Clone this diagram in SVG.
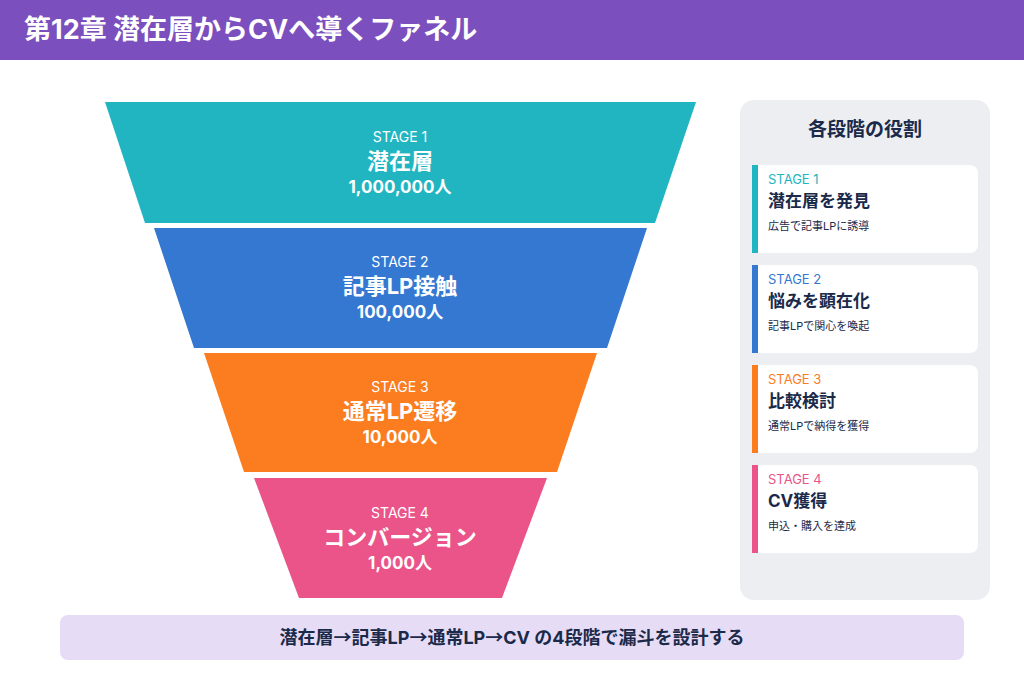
<svg xmlns="http://www.w3.org/2000/svg" width="1024" height="683" viewBox="0 0 1024 683">
<style>
text{font-family:Inter,"Noto Sans CJK JP",sans-serif}
.st{font-size:14px;fill:#fff;text-anchor:middle}
.tt{font-size:22px;font-weight:700;fill:#fff;text-anchor:middle}
.nm{font-size:17px;font-weight:700;fill:#fff;text-anchor:middle}
.card{fill:#fff}
.cl{font-size:13px}
.ct{font-size:17px;font-weight:700;fill:#1b2a4a}
.cd{font-size:11px;fill:#1b2a4a}
</style>
<rect width="1024" height="683" fill="#fff"/>
<rect width="1024" height="60" fill="#7b4fbd"/>
<text x="24" y="39" font-size="27" font-weight="700" fill="#fff">第12章 潜在層からCVへ導くファネル</text>
<g id="stage1"><polygon points="105,102 696,102 655,223 145,223" fill="#21b5c1"/>
<text class="st" x="400" y="142">STAGE 1</text><text class="tt" x="400" y="169">潜在層</text><text class="nm" x="400" y="193">1,000,000人</text></g>
<g id="stage2"><polygon points="154,228 647,228 607,348 194,348" fill="#3478d1"/>
<text class="st" x="400" y="267">STAGE 2</text><text class="tt" x="400" y="294">記事LP接触</text><text class="nm" x="400" y="318">100,000人</text></g>
<g id="stage3"><polygon points="204,353 597,353 557,472 244,472" fill="#fb7d1f"/>
<text class="st" x="400" y="392">STAGE 3</text><text class="tt" x="400" y="419">通常LP遷移</text><text class="nm" x="400" y="443">10,000人</text></g>
<g id="stage4"><polygon points="254,478 547,478 502,598 299,598" fill="#ea5489"/>
<text class="st" x="400" y="518">STAGE 4</text><text class="tt" x="400" y="545">コンバージョン</text><text class="nm" x="400" y="569">1,000人</text></g>
<g id="roles">
<rect x="740" y="100" width="250" height="500" rx="14" fill="#eceef2"/>
<text x="865" y="136" font-size="19" font-weight="700" fill="#1b2a4a" text-anchor="middle">各段階の役割</text>
<g id="r1"><rect class="card" x="752" y="165" width="226" height="88" rx="8"/><rect x="752" y="165" width="6" height="88" fill="#21b5c1"/>
<text class="cl" x="768" y="184" fill="#21b5c1">STAGE 1</text><text class="ct" x="768" y="207">潜在層を発見</text><text class="cd" x="768" y="230">広告で記事LPに誘導</text></g>
<g id="r2"><rect class="card" x="752" y="265" width="226" height="88" rx="8"/><rect x="752" y="265" width="6" height="88" fill="#3478d1"/>
<text class="cl" x="768" y="284" fill="#3478d1">STAGE 2</text><text class="ct" x="768" y="307">悩みを顕在化</text><text class="cd" x="768" y="330">記事LPで関心を喚起</text></g>
<g id="r3"><rect class="card" x="752" y="365" width="226" height="88" rx="8"/><rect x="752" y="365" width="6" height="88" fill="#fb7d1f"/>
<text class="cl" x="768" y="384" fill="#fb7d1f">STAGE 3</text><text class="ct" x="768" y="407">比較検討</text><text class="cd" x="768" y="430">通常LPで納得を獲得</text></g>
<g id="r4"><rect class="card" x="752" y="465" width="226" height="88" rx="8"/><rect x="752" y="465" width="6" height="88" fill="#ea5489"/>
<text class="cl" x="768" y="484" fill="#ea5489">STAGE 4</text><text class="ct" x="768" y="507">CV獲得</text><text class="cd" x="768" y="530">申込・購入を達成</text></g>
</g>
<g id="connectors"/>
<g id="banner"><rect x="60" y="615" width="904" height="45" rx="8" fill="#e6dcf5"/>
<text x="512" y="644" font-size="18" font-weight="700" fill="#1b2a4a" text-anchor="middle">潜在層<tspan font-family="Noto Sans CJK JP">→</tspan>記事LP<tspan font-family="Noto Sans CJK JP">→</tspan>通常LP<tspan font-family="Noto Sans CJK JP">→</tspan>CV の4段階で漏斗を設計する</text></g>
</svg>
